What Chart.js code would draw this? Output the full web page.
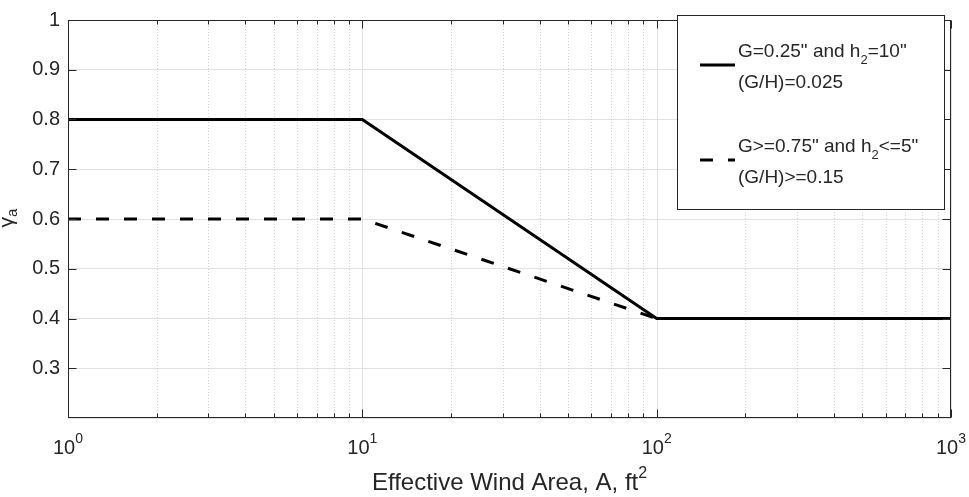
<!DOCTYPE html>
<html>
<head>
<meta charset="utf-8">
<script src="https://cdn.jsdelivr.net/npm/chart.js@4.4.0/dist/chart.umd.min.js"></script>
<style>
  html, body { margin: 0; padding: 0; background: #fff; }
</style>
</head>
<body>
<canvas id="chart" width="969" height="497"></canvas>
<script>
// data
const areaPoints = [1, 10, 100, 1000];
const gammaSmallGap = [0.8, 0.8, 0.4, 0.4];
const gammaLargeGap = [0.6, 0.6, 0.4];
const yTickValues = [0.3, 0.4, 0.5, 0.6, 0.7, 0.8, 0.9, 1];
const xDecades = [1, 10, 100, 1000];
const xDecadeExponents = ['0', '1', '2', '3'];
const seriesNames = [
  ['G=0.25" and h', '2', '=10"', '(G/H)=0.025'],
  ['G>=0.75" and h', '2', '<=5"', '(G/H)>=0.15']
];
const xTitle = ['Effective Wind Area, A, ft', '2'];
const yTitle = ['\u03b3', 'a'];

const FONT = "'Liberation Sans', Arial, Helvetica, sans-serif";
const INK = '#262626';

const toPoints = (xs, ys) => ys.map((y, i) => ({ x: xs[i], y: y }));

// draw text made of pieces (for super/subscripts)
function drawRich(ctx, parts, x, y, align) {
  let total = 0;
  parts.forEach(p => {
    ctx.font = p.size + 'px ' + FONT;
    p.w = ctx.measureText(p.t).width;
    total += p.w;
  });
  let cx = align === 'center' ? x - total / 2 : x;
  ctx.textAlign = 'left';
  ctx.textBaseline = 'alphabetic';
  parts.forEach(p => {
    ctx.font = p.size + 'px ' + FONT;
    ctx.fillText(p.t, cx, y + (p.dy || 0));
    cx += p.w;
  });
}

const matlabFrame = {
  id: 'matlabFrame',
  beforeDatasetsDraw(chart) {
    const { ctx, chartArea: a, scales: { x } } = chart;
    ctx.save();
    ctx.lineWidth = 1;
    xDecades.forEach((d, i) => {
      if (i < xDecades.length - 1) {
        ctx.strokeStyle = '#d2d2d2';
        ctx.setLineDash([1, 2]);
        for (let m = 2; m <= 9; m++) {
          const px = Math.round(x.getPixelForValue(d * m)) + 0.5;
          ctx.beginPath();
          ctx.moveTo(px, a.top);
          ctx.lineTo(px, a.bottom);
          ctx.stroke();
        }
      }
      ctx.setLineDash([]);
      ctx.strokeStyle = '#e1e1e1';
      const px = Math.round(x.getPixelForValue(d)) + 0.5;
      ctx.beginPath();
      ctx.moveTo(px, a.top);
      ctx.lineTo(px, a.bottom);
      ctx.stroke();
    });
    ctx.restore();
  },
  afterDatasetsDraw(chart) {
    const { ctx, chartArea: a, scales: { x, y } } = chart;
    ctx.save();
    ctx.strokeStyle = INK;
    ctx.fillStyle = INK;
    ctx.lineWidth = 1;
    const L = Math.round(a.left) + 0.5, R = Math.round(a.right) - 0.5;
    const T = Math.round(a.top) + 0.5, B = Math.round(a.bottom) - 0.5;
    ctx.strokeRect(L, T, R - L, B - T);

    // inward ticks
    ctx.beginPath();
    yTickValues.forEach(v => {
      const py = Math.round(y.getPixelForValue(v)) + 0.5;
      ctx.moveTo(L, py); ctx.lineTo(L + 8, py);
      ctx.moveTo(R, py); ctx.lineTo(R - 8, py);
    });
    xDecades.forEach((d, i) => {
      const px = Math.round(x.getPixelForValue(d)) + 0.5;
      ctx.moveTo(px, B); ctx.lineTo(px, B - 8);
      ctx.moveTo(px, T); ctx.lineTo(px, T + 8);
      if (i < xDecades.length - 1) {
        for (let m = 2; m <= 9; m++) {
          const mx = Math.round(x.getPixelForValue(d * m)) + 0.5;
          ctx.moveTo(mx, B); ctx.lineTo(mx, B - 4);
          ctx.moveTo(mx, T); ctx.lineTo(mx, T + 4);
        }
      }
    });
    ctx.stroke();

    // x tick labels 10^n
    xDecades.forEach((d, i) => {
      drawRich(ctx, [
        { t: '10', size: 20 },
        { t: xDecadeExponents[i], size: 14, dy: -11 }
      ], x.getPixelForValue(d), 454, 'center');
    });

    // axis titles
    drawRich(ctx, [
      { t: xTitle[0], size: 24 },
      { t: xTitle[1], size: 16, dy: -12 }
    ], (a.left + a.right) / 2, 490, 'center');

    ctx.save();
    ctx.translate(13, 218);
    ctx.rotate(-Math.PI / 2);
    drawRich(ctx, [
      { t: yTitle[0], size: 21 },
      { t: yTitle[1], size: 15, dy: 4 }
    ], 0, 0, 'center');
    ctx.restore();

    // legend box
    ctx.fillStyle = '#fff';
    ctx.fillRect(677.5, 15.5, 267, 194);
    ctx.strokeRect(677.5, 15.5, 267, 194);
    ctx.fillStyle = INK;

    const rows = [{ lineY: 65, base: 57, dash: [] }, { lineY: 160, base: 152, dash: [13, 15] }];
    rows.forEach((r, i) => {
      const ds = chart.data.datasets[i];
      ctx.save();
      ctx.strokeStyle = ds.borderColor;
      ctx.lineWidth = ds.borderWidth;
      ctx.setLineDash(r.dash);
      ctx.beginPath();
      ctx.moveTo(700, r.lineY);
      ctx.lineTo(735, r.lineY);
      ctx.stroke();
      ctx.restore();
      const n = seriesNames[i];
      drawRich(ctx, [
        { t: n[0], size: 19 },
        { t: n[1], size: 13, dy: 7 },
        { t: n[2], size: 19 }
      ], 738, r.base, 'left');
      drawRich(ctx, [{ t: n[3], size: 19 }], 738, r.base + 31, 'left');
    });
    ctx.restore();
  }
};

const chart = new Chart(document.getElementById('chart'), {
  type: 'line',
  data: {
    datasets: [
      {
        label: seriesNames[0][0] + seriesNames[0][1] + seriesNames[0][2],
        data: toPoints(areaPoints, gammaSmallGap),
        borderColor: '#000',
        borderWidth: 3,
        pointRadius: 0,
        tension: 0,
        fill: false,
        order: 1
      },
      {
        label: seriesNames[1][0] + seriesNames[1][1] + seriesNames[1][2],
        data: toPoints(areaPoints, gammaLargeGap),
        borderColor: '#000',
        borderWidth: 3,
        borderDash: [13, 15],
        pointRadius: 0,
        tension: 0,
        fill: false,
        order: 2
      }
    ]
  },
  options: {
    responsive: false,
    animation: false,
    layout: { padding: { top: 8, right: 18, left: 0, bottom: 0 } },
    plugins: { legend: { display: false }, tooltip: { enabled: false } },
    scales: {
      x: {
        type: 'logarithmic',
        min: 1,
        max: 1000,
        ticks: { display: false },
        grid: { display: false },
        border: { display: false },
        afterFit: (s) => { s.height = 79; }
      },
      y: {
        min: 0.2,
        max: 1,
        ticks: {
          stepSize: 0.1,
          padding: 8,
          color: INK,
          font: { family: FONT, size: 20 },
          callback: (v) => (v < 0.25 ? '' : String(Math.round(v * 10) / 10))
        },
        grid: { color: '#e1e1e1', drawTicks: false },
        border: { display: false },
        afterFit: (s) => { s.width = 68; }
      }
    }
  },
  plugins: [matlabFrame]
});
</script>
</body>
</html>
